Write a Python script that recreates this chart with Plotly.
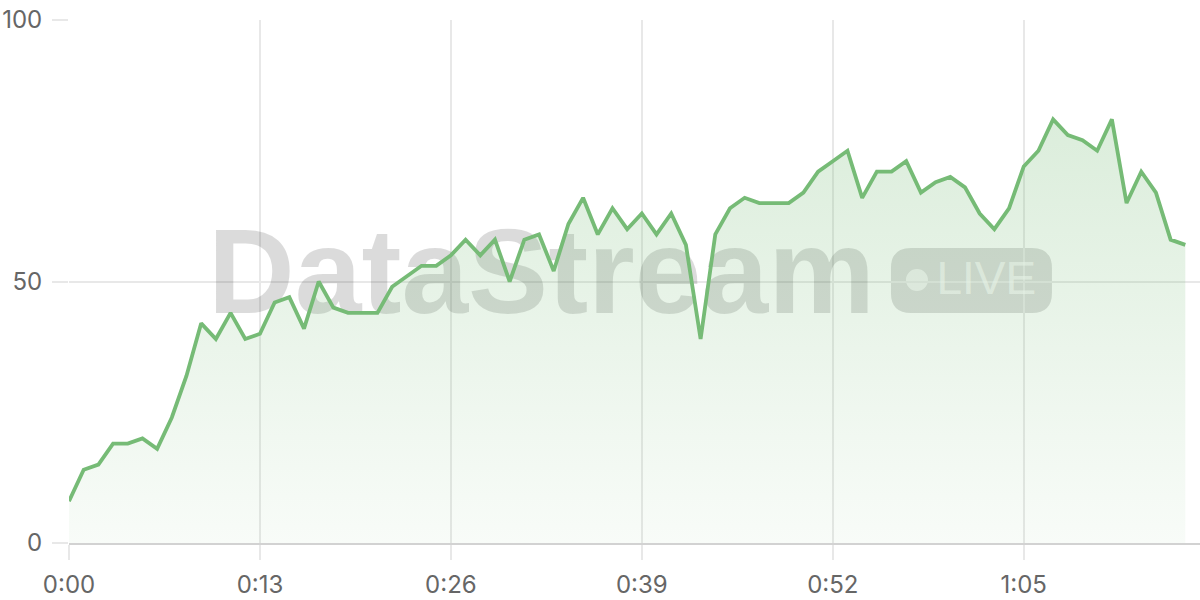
import plotly.graph_objects as go

# ---- data ----
seconds = list(range(77))
values = [8, 14, 15, 19, 19, 20, 18, 24, 32, 42,
          39, 44, 39, 40, 46, 47, 41, 50, 45, 44,
          44, 44, 49, 51, 53, 53, 55, 58, 55, 58,
          50, 58, 59, 52, 61, 66, 59, 64, 60, 63,
          59, 63, 57, 39, 59, 64, 66, 65, 65, 65,
          67, 71, 73, 75, 66, 71, 71, 73, 67, 69,
          70, 68, 63, 60, 64, 72, 75, 81, 78, 77,
          75, 81, 65, 71, 67, 58, 57]
tick_seconds = [0, 13, 26, 39, 52, 65]
tick_labels = ["0:00", "0:13", "0:26", "0:39", "0:52", "1:05"]
y_ticks = [0, 50, 100]

GREEN = "rgb(118,187,118)"
GRID = "#e8e8e8"
FONT = "Inter, Liberation Sans, Arial, sans-serif"

fig = go.Figure()

# watermark text (drawn first so the data sits on top)
fig.add_trace(go.Scatter(
    x=[32.17], y=[49.7], mode="text", text=["DataStream"],
    textposition="middle center",
    textfont=dict(family="Liberation Sans, Arial, sans-serif", size=120,
                  color="rgba(0,0,0,0.14)", weight="bold"),
    hoverinfo="skip", showlegend=False))
fig.add_trace(go.Scatter(
    x=[62.45], y=[49.9], mode="text", text=["LIVE"],
    textposition="middle center",
    textfont=dict(family="Liberation Sans, Arial, sans-serif", size=46,
                  color="rgba(255,255,255,0.65)"),
    hoverinfo="skip", showlegend=False))

# data area
fig.add_trace(go.Scatter(
    x=seconds, y=values, mode="lines",
    line=dict(color=GREEN, width=3.8),
    fill="tozeroy",
    fillgradient=dict(type="vertical",
                      colorscale=[[0, "rgba(118,187,118,0.05)"],
                                  [1, "rgba(118,187,118,0.26)"]],
                      start=0, stop=81),
    hoverinfo="x+y", showlegend=False))

# LIVE badge
w, h, r = 161, 65, 20
hw, hh = w / 2, h / 2
path = (f"M {-hw + r},{-hh} L {hw - r},{-hh} Q {hw},{-hh} {hw},{-hh + r} "
        f"L {hw},{hh - r} Q {hw},{hh} {hw - r},{hh} L {-hw + r},{hh} "
        f"Q {-hw},{hh} {-hw},{hh - r} L {-hw},{-hh + r} Q {-hw},{-hh} {-hw + r},{-hh} Z")
fig.add_shape(type="path", path=path, xref="x", yref="y",
              xsizemode="pixel", ysizemode="pixel", xanchor=61.44, yanchor=50.19,
              fillcolor="rgba(0,0,0,0.14)", line=dict(width=0), layer="below")
fig.add_shape(type="circle", xref="x", yref="y",
              xsizemode="pixel", ysizemode="pixel", xanchor=57.73, yanchor=50.29,
              x0=-11, x1=11, y0=-11, y1=11,
              fillcolor="rgba(255,255,255,0.65)", line=dict(width=0), layer="below")

fig.update_layout(
    width=1200, height=600,
    margin=dict(l=69, r=0, t=20, b=57, autoexpand=False),
    paper_bgcolor="white", plot_bgcolor="white",
    font=dict(family=FONT, size=24, color="#666666"),
    showlegend=False,
    xaxis=dict(range=[0, 77], tickvals=tick_seconds, ticktext=tick_labels,
               automargin=False,
               showgrid=True, gridcolor=GRID, gridwidth=1.5,
               zeroline=False, showline=True, linecolor="#d2d2d2", linewidth=2,
               ticks="outside", ticklen=15, tickcolor=GRID, tickwidth=1.5,
               ticklabelstandoff=4, fixedrange=True),
    yaxis=dict(range=[0, 100], tickvals=y_ticks, automargin=False,
               showgrid=True, gridcolor=GRID, gridwidth=1.5,
               zeroline=False, showline=False,
               ticks="outside", ticklen=16, tickcolor=GRID, tickwidth=1.5,
               ticklabelstandoff=5, fixedrange=True),
)

fig.write_html("out.html",
               config={"displayModeBar": False},
               post_script="document.body.style.margin='0';document.body.style.overflow='hidden';")
